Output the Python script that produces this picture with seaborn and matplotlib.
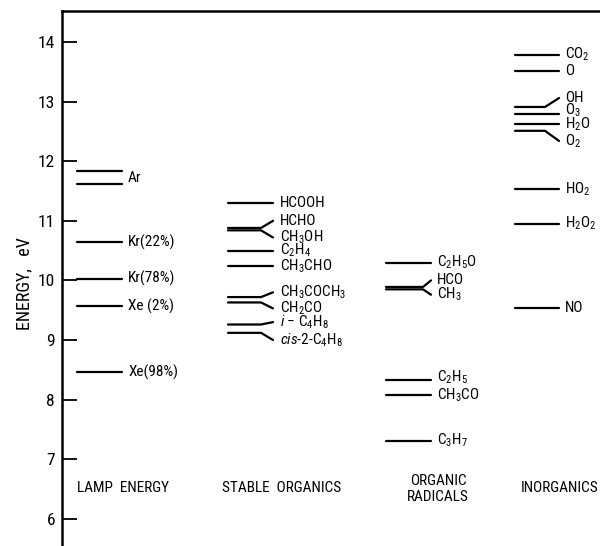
import re
import matplotlib
matplotlib.use("Agg")
import matplotlib.pyplot as plt
import seaborn as sns
import pandas as pd
from matplotlib import font_manager

# ---------------- data (energies in eV) ----------------
lamp_names = ["Ar", "Ar", "Kr(22%)", "Kr(78%)", "Xe (2%)", "Xe(98%)"]
lamp_levels = [11.83, 11.62, 10.64, 10.03, 9.57, 8.46]

stable_names = ["HCOOH", "HCHO", "CH3OH", "C2H4", "CH3CHO",
                "CH3COCH3", "CH2CO", "i-C4H8", "cis-2-C4H8"]
stable_levels = [11.30, 10.88, 10.84, 10.50, 10.24, 9.72, 9.63, 9.26, 9.12]

radical_names = ["C2H5O", "HCO", "CH3", "C2H5", "CH3CO", "C3H7"]
radical_levels = [10.30, 9.89, 9.85, 8.33, 8.08, 7.31]

inorg_names = ["CO2", "O", "OH", "O3", "H2O", "O2", "HO2", "H2O2", "NO"]
inorg_levels = [13.79, 13.51, 12.91, 12.80, 12.62, 12.51, 11.53, 10.95, 9.53]

group_titles = ["LAMP  ENERGY", "STABLE  ORGANICS", "ORGANIC\nRADICALS", "INORGANICS"]
y_ticks = [6, 7, 8, 9, 10, 11, 12, 13, 14]
y_label = "ENERGY,   eV"

# ---------------- layout (pixels / eV offsets, style only) ----------------
fork = {"HCHO": 0.12, "CH3OH": -0.12, "CH3COCH3": 0.08, "CH2CO": -0.10,
        "i-C4H8": 0.04, "cis-2-C4H8": -0.12, "HCO": 0.11, "CH3": -0.09,
        "OH": 0.15, "O2": -0.17}
label_shift = {"C2H5": 0.05, "O3": 0.05}
cols = [  # x0, xfork, x1, label x
    (77, 110, 122, 128),
    (228, 261, 273, 280),
    (386, 423, 431, 437),
    (515, 545, 559, 565),
]
title_pos = [(77, 488, "left"), (222, 488, "left"), (438, 489, "center"), (598, 488, "right")]

# ---------------- style ----------------
sns.set_theme(style="ticks")
entries = font_manager.fontManager.ttflist
names = {f.name for f in entries}
fam, stretch, fs = "DejaVu Sans", "normal", 9.5
for cand in ["Liberation Sans Narrow", "Roboto Condensed", "Open Sans Condensed",
             "Noto Sans Condensed", "DejaVu Sans Condensed"]:
    if cand in names:
        fam, fs = cand, 11
        break
else:
    for f in entries:
        if f.name in ("Noto Sans", "DejaVu Sans", "Open Sans", "Roboto") and \
                str(f.stretch) in ("condensed", "semi-condensed", "extra-condensed") \
                and str(f.weight) in ("400", "normal", "regular") and f.style == "normal":
            fam, stretch, fs = f.name, str(f.stretch), 11
            break
plt.rcParams["font.family"] = [fam, "DejaVu Sans"]
plt.rcParams["font.stretch"] = stretch
plt.rcParams["mathtext.fontset"] = "custom"
plt.rcParams["mathtext.rm"] = fam
plt.rcParams["mathtext.it"] = fam + ":italic"
plt.rcParams["mathtext.default"] = "regular"


def fmt(name):
    if "%" in name:
        return name
    prefix = ""
    if name.startswith("i-"):
        prefix, name = r"$\mathit{i}$ − ", name[2:]
    elif name.startswith("cis-"):
        prefix, name = r"$\mathit{cis}$-2-", name[6:]
    body = re.sub(r"([A-Za-z])(\d)", lambda m: m.group(1) + "$_{" + m.group(2) + "}$", name)
    return prefix + body


groups = [(lamp_names, lamp_levels), (stable_names, stable_levels),
          (radical_names, radical_levels), (inorg_names, inorg_levels)]

rows = []
labels = []
uid = 0
for gi, (names_g, levels) in enumerate(groups):
    x0, xf, x1, xl = cols[gi]
    seen = {}
    for n, e in zip(names_g, levels):
        off = fork.get(n, 0.0)
        for x, yy in ((x0, e), (xf, e), (x1, e + off)):
            rows.append({"x": x, "E": yy, "uid": uid})
        uid += 1
        seen.setdefault(n, []).append(e + off + label_shift.get(n, 0.0))
    for n, ys in seen.items():
        labels.append((xl, sum(ys) / len(ys), fmt(n)))
df = pd.DataFrame(rows)

W, H = 600, 546
fig = plt.figure(figsize=(W / 100, H / 100), dpi=100)
ax = fig.add_axes([62 / W, 0, 1 - 62 / W, 1 - 11 / H])
sns.lineplot(data=df, x="x", y="E", units="uid", estimator=None, sort=False,
             color="black", lw=1.6, legend=False, ax=ax)

for xl, yl, txt in labels:
    ax.text(xl, yl, txt, ha="left", va="center", fontsize=fs, color="black")

E_top = 14 + 31 / 59.6
E_bot = 14 - (546 - 42) / 59.6
ax.set_xlim(62, 600)
ax.set_ylim(E_bot, E_top)
ax.set_xlabel("")
ax.set_ylabel("")
ax.set_xticks([])
ax.set_yticks(y_ticks)
ax.set_yticklabels([str(t) for t in y_ticks])
ax.tick_params(axis="y", direction="in", length=11, width=1.3, pad=5,
               labelsize=fs + 1.5, colors="black")
for s in ["right", "bottom"]:
    ax.spines[s].set_visible(False)
for s in ["left", "top"]:
    ax.spines[s].set_linewidth(1.8)
    ax.spines[s].set_color("black")

for (tx, ty, ha), title in zip(title_pos, group_titles):
    fig.text(tx / W, 1 - ty / H, title, ha=ha, va="center", fontsize=fs,
             linespacing=1.15, color="black")

fig.text(24 / W, 1 - 284 / H, y_label, rotation=90, ha="center", va="center",
         fontsize=fs + 2, color="black")

fig.savefig("out.png", dpi=100)
